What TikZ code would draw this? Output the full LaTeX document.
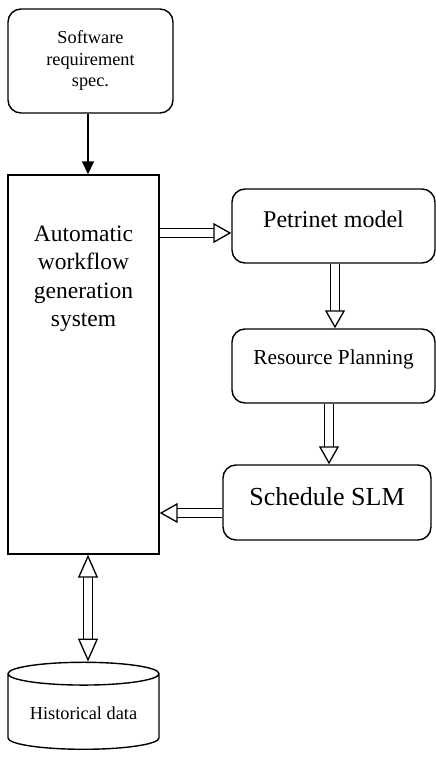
\documentclass[tikz,border=0pt]{standalone}
\usepackage{fontspec}
\setmainfont{Liberation Serif}
\usetikzlibrary{arrows.meta,shapes.geometric}

\begin{document}
\begin{tikzpicture}[x=1pt, y=-1pt, >={Triangle[length=13pt,width=12pt]},
  box/.style={draw, line width=1.4pt, rounded corners=13pt, align=center, inner sep=0pt},
  fat/.style={double, double distance=7.5pt, line width=1.3pt, -{Triangle[open,length=18pt,width=20pt]}}]
\useasboundingbox (0,0) rectangle (436,758);
\node[box, minimum width=165pt, minimum height=104pt, font=\fontsize{18.3}{21.5}\selectfont] (spec) at (90.5,61) {Software\\requirement\\spec.};
\node[draw, line width=1.4pt, minimum width=151pt, minimum height=379pt,
  label={[anchor=north, yshift=-51pt, align=center, inner sep=0pt, font=\fontsize{23.5}{28.5}\selectfont]north:Automatic\\workflow\\generation\\system}] (main) at (83.5,364.5) {};
\node[box, minimum width=203pt, minimum height=74pt, font=\fontsize{24}{28}\selectfont, text height=16pt, text depth=14pt] (pn) at (333.5,226) {Petrinet model};
\node[box, minimum width=203pt, minimum height=74pt, font=\fontsize{21.3}{25}\selectfont, text height=14pt, text depth=18pt] (res) at (333.5,366) {Resource Planning};
\node[box, minimum width=208pt, minimum height=75pt, font=\fontsize{26}{30}\selectfont, text height=18pt, text depth=12pt] (sch) at (327,502.5) {Schedule SLM};
\node[cylinder, shape border rotate=90, draw, line width=1.4pt, aspect=0.2, minimum width=151pt, minimum height=87pt, font=\fontsize{18.3}{22}\selectfont] (hist) at (83.5,713.5) {Historical data};
\draw[->, line width=1.4pt] ([xshift=-2.5pt]spec.south) -- ([xshift=-2.5pt]spec.south |- main.north);
\draw[fat] ([yshift=-7pt]main.east |- pn.west) -- ([yshift=-7pt]pn.west);
\draw[fat] ([xshift=1.5pt]pn.south) -- ([xshift=1.5pt]pn.south |- res.north);
\draw[fat] ([xshift=2pt]sch.north |- res.south) -- ([xshift=2pt]sch.north);
\draw[fat] ([yshift=-10.5pt]sch.west) -- ([yshift=-10.5pt]main.east |- sch.west);
\draw[fat, {Triangle[open,length=23pt,width=20pt]}-{Triangle[open,length=23pt,width=20pt]}] ([xshift=4.5pt]main.south) -- ([xshift=4.5pt]hist.north);
\end{tikzpicture}
\end{document}
